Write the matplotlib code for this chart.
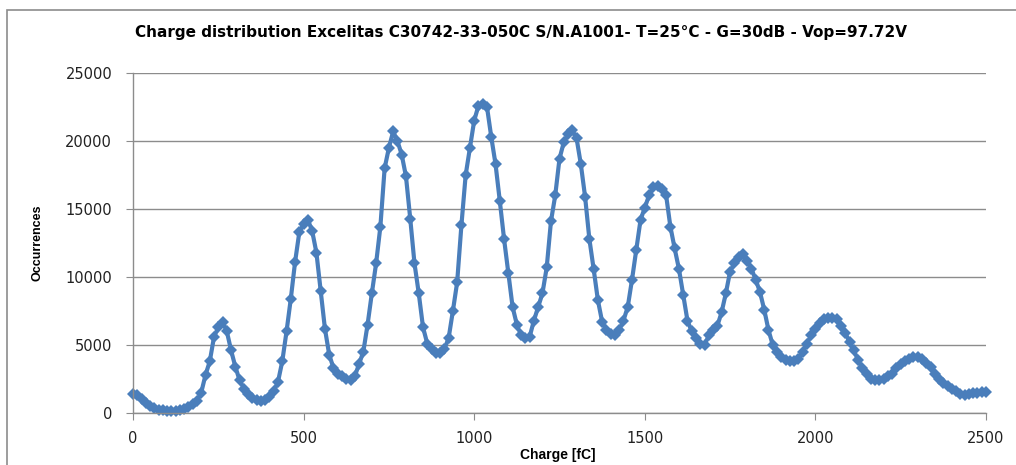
import matplotlib.pyplot as plt
from matplotlib.patches import Rectangle

plt.rcParams["font.family"] = ["DejaVu Sans"]

# charge bins [fC]
charge = [
    0, 12.5, 25, 37.5, 50, 62.5, 75, 87.5,
    100, 112.5, 125, 137.5, 150, 162.5, 175, 187.5,
    200, 212.5, 225, 237.5, 250, 262.5, 275, 287.5,
    300, 312.5, 325, 337.5, 350, 362.5, 375, 387.5,
    400, 412.5, 425, 437.5, 450, 462.5, 475, 487.5,
    500, 512.5, 525, 537.5, 550, 562.5, 575, 587.5,
    600, 612.5, 625, 637.5, 650, 662.5, 675, 687.5,
    700, 712.5, 725, 737.5, 750, 762.5, 775, 787.5,
    800, 812.5, 825, 837.5, 850, 862.5, 875, 887.5,
    900, 912.5, 925, 937.5, 950, 962.5, 975, 987.5,
    1000, 1012.5, 1025, 1037.5, 1050, 1062.5, 1075, 1087.5,
    1100, 1112.5, 1125, 1137.5, 1150, 1162.5, 1175, 1187.5,
    1200, 1212.5, 1225, 1237.5, 1250, 1262.5, 1275, 1287.5,
    1300, 1312.5, 1325, 1337.5, 1350, 1362.5, 1375, 1387.5,
    1400, 1412.5, 1425, 1437.5, 1450, 1462.5, 1475, 1487.5,
    1500, 1512.5, 1525, 1537.5, 1550, 1562.5, 1575, 1587.5,
    1600, 1612.5, 1625, 1637.5, 1650, 1662.5, 1675, 1687.5,
    1700, 1712.5, 1725, 1737.5, 1750, 1762.5, 1775, 1787.5,
    1800, 1812.5, 1825, 1837.5, 1850, 1862.5, 1875, 1887.5,
    1900, 1912.5, 1925, 1937.5, 1950, 1962.5, 1975, 1987.5,
    2000, 2012.5, 2025, 2037.5, 2050, 2062.5, 2075, 2087.5,
    2100, 2112.5, 2125, 2137.5, 2150, 2162.5, 2175, 2187.5,
    2200, 2212.5, 2225, 2237.5, 2250, 2262.5, 2275, 2287.5,
    2300, 2312.5, 2325, 2337.5, 2350, 2362.5, 2375, 2387.5,
    2400, 2412.5, 2425, 2437.5, 2450, 2462.5, 2475, 2487.5,
    2500,
]

# occurrences per bin
occurrences = [
    1400, 1300, 1050, 750, 500, 350, 250, 200,
    150, 130, 150, 200, 300, 450, 650, 900,
    1500, 2800, 3800, 5600, 6300, 6700, 6000, 4600,
    3400, 2400, 1800, 1400, 1100, 950, 900, 950,
    1200, 1600, 2300, 3800, 6000, 8400, 11100, 13300,
    13900, 14200, 13400, 11800, 9000, 6200, 4300, 3300,
    2900, 2700, 2500, 2400, 2700, 3600, 4500, 6500,
    8800, 11000, 13700, 18000, 19500, 20700, 20000, 19000,
    17400, 14300, 11000, 8800, 6300, 5100, 4700, 4400,
    4400, 4700, 5500, 7500, 9600, 13800, 17500, 19500,
    21500, 22600, 22700, 22500, 20300, 18300, 15600, 12800,
    10300, 7800, 6500, 5700, 5500, 5600, 6800, 7800,
    8800, 10700, 14100, 16000, 18700, 19900, 20500, 20800,
    20200, 18300, 15900, 12800, 10600, 8300, 6700, 6100,
    5800, 5700, 6100, 6800, 7800, 9800, 12000, 14200,
    15100, 16000, 16600, 16700, 16500, 16000, 13700, 12100,
    10600, 8700, 6800, 6000, 5500, 5100, 5000, 5700,
    6100, 6400, 7400, 8800, 10400, 11000, 11500, 11700,
    11200, 10600, 9800, 8900, 7600, 6100, 5000, 4500,
    4100, 3900, 3800, 3800, 4000, 4500, 5100, 5700,
    6200, 6600, 6900, 7000, 7000, 6900, 6400, 5900,
    5200, 4600, 3900, 3300, 2900, 2500, 2400, 2400,
    2500, 2700, 2900, 3300, 3600, 3800, 4000, 4100,
    4100, 4000, 3700, 3400, 2900, 2500, 2200, 2000,
    1800, 1600, 1400, 1300, 1400, 1450, 1500, 1550,
    1550,
]

x_ticks = [0, 500, 1000, 1500, 2000, 2500]
y_ticks = [0, 5000, 10000, 15000, 20000, 25000]

title = "Charge distribution Excelitas C30742-33-050C S/N.A1001- T=25°C - G=30dB - Vop=97.72V"

fig = plt.figure(figsize=(10.16, 4.65), dpi=100)
# chart area border like the Excel chart
fig.patches.append(Rectangle((7 / 1016, -0.1), 1.2, (465 - 10) / 465 + 0.1,
                             transform=fig.transFigure, fill=False,
                             edgecolor="#8c8c8c", linewidth=1.2))

ax = fig.add_axes([133 / 1016, 1 - 413 / 465, (986 - 133) / 1016, (413 - 73) / 465])
ax.plot(charge, occurrences, color="#4a7ebb", linewidth=3,
        marker="D", markersize=6.5, markeredgewidth=0, clip_on=False)

ax.set_xlim(0, 2500)
ax.set_ylim(0, 25000)
ax.set_xticks(x_ticks)
ax.set_yticks(y_ticks)
ax.grid(axis="y", color="#8c8c8c", linewidth=1)
ax.set_axisbelow(True)
for s in ["top", "right"]:
    ax.spines[s].set_visible(False)
for s in ["left", "bottom"]:
    ax.spines[s].set_color("#8c8c8c")
    ax.spines[s].set_linewidth(1)
ax.tick_params(colors="#8c8c8c", labelcolor="#222222", labelsize=10.5, length=5, direction="out")
ax.tick_params(axis="y", pad=10)
ax.tick_params(axis="x", pad=8)

fig.text(521 / 1016, 1 - 33 / 465, title, ha="center", va="center",
         fontsize=11, fontweight="bold", family="DejaVu Sans")
ax.set_ylabel("Occurrences", fontsize=9, fontweight="bold", family="Liberation Sans", labelpad=16)
fig.text(558 / 1016, 1 - 455 / 465, "Charge [fC]", ha="center", va="center",
         fontsize=10, fontweight="bold", family="Liberation Sans")

fig.savefig("out.png", dpi=100)
